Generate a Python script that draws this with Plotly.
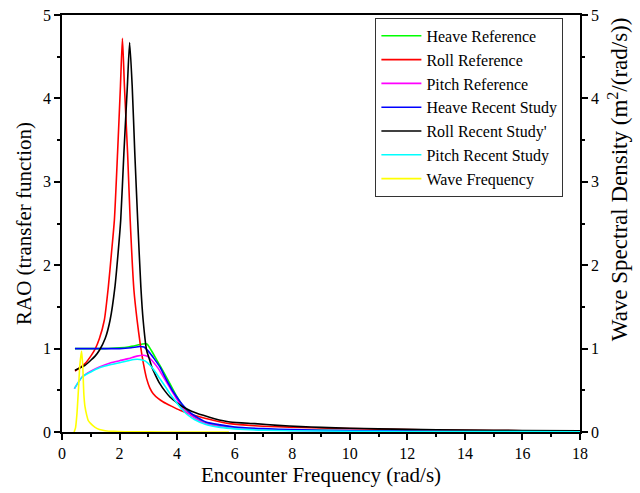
import plotly.graph_objects as go

# Encounter frequency (rad/s) and RAO values for each motion
heave_ref_x = [0.45, 1.0, 1.5, 2.0, 2.3, 2.6, 2.8, 2.95, 3.1, 3.3, 3.5, 3.75, 4.0, 4.2, 4.5, 5.0, 5.5, 6.0, 7.0, 8.0, 10, 12, 14, 16, 18]
heave_ref_y = [1.0, 1.0, 1.0, 1.01, 1.02, 1.04, 1.055, 1.055, 0.98, 0.86, 0.74, 0.58, 0.42, 0.31, 0.2, 0.11, 0.075, 0.052, 0.033, 0.024, 0.015, 0.01, 0.008, 0.006, 0.005]

roll_ref_x = [0.45, 0.8, 1.0, 1.16, 1.3, 1.47, 1.61, 1.72, 1.82, 1.93, 2.03, 2.10, 2.17, 2.28, 2.37, 2.50, 2.61, 2.72, 2.83, 2.94, 3.05, 3.17, 3.35, 3.52, 3.8, 4.1, 4.5, 4.9, 5.4, 5.84, 6.7, 7.5, 8.3, 9, 10, 11, 12, 14, 16, 18]
roll_ref_y = [0.73, 0.82, 0.91, 1.0, 1.12, 1.34, 1.74, 2.15, 2.54, 3.34, 4.14, 4.72, 4.14, 3.34, 2.54, 1.7, 1.34, 1.05, 0.82, 0.64, 0.53, 0.46, 0.40, 0.36, 0.31, 0.26, 0.21, 0.17, 0.13, 0.10, 0.075, 0.063, 0.055, 0.048, 0.04, 0.034, 0.028, 0.02, 0.015, 0.012]

pitch_ref_x = [0.43, 0.7, 1.0, 1.3, 1.7, 2.0, 2.3, 2.6, 2.83, 3.0, 3.17, 3.35, 3.52, 3.7, 3.87, 4.0, 4.16, 4.4, 4.7, 5.0, 5.5, 6.0, 7, 8, 10, 12, 14, 16, 18]
pitch_ref_y = [0.52, 0.66, 0.73, 0.78, 0.83, 0.855, 0.88, 0.91, 0.92, 0.90, 0.84, 0.76, 0.66, 0.56, 0.46, 0.39, 0.30, 0.22, 0.15, 0.10, 0.065, 0.045, 0.028, 0.02, 0.012, 0.008, 0.006, 0.005, 0.004]

heave_new_x = [0.45, 1.0, 1.5, 2.0, 2.4, 2.7, 2.85, 3.0, 3.2, 3.4, 3.64, 3.87, 4.16, 4.5, 5.0, 5.5, 6.0, 7, 8, 10, 12, 14, 16, 18]
heave_new_y = [1.0, 1.0, 1.0, 1.0, 1.01, 1.025, 1.02, 0.97, 0.88, 0.78, 0.62, 0.48, 0.34, 0.22, 0.12, 0.085, 0.06, 0.04, 0.028, 0.017, 0.011, 0.008, 0.006, 0.005]

roll_new_x = [0.45, 0.8, 1.0, 1.15, 1.3, 1.5, 1.67, 1.84, 1.95, 2.04, 2.15, 2.27, 2.35, 2.44, 2.53, 2.63, 2.74, 2.82, 2.94, 3.05, 3.12, 3.25, 3.40, 3.58, 3.75, 4.0, 4.21, 4.5, 4.91, 5.3, 5.84, 6.7, 7.5, 8.3, 9, 10, 11, 12, 14, 16, 18]
roll_new_y = [0.74, 0.80, 0.86, 0.91, 0.98, 1.12, 1.34, 1.74, 2.15, 2.54, 3.34, 4.14, 4.67, 4.14, 3.34, 2.54, 1.74, 1.34, 0.98, 0.86, 0.78, 0.68, 0.58, 0.49, 0.42, 0.35, 0.30, 0.25, 0.20, 0.16, 0.12, 0.10, 0.08, 0.065, 0.055, 0.045, 0.038, 0.032, 0.024, 0.018, 0.014]

pitch_new_x = [0.43, 0.7, 1.0, 1.3, 1.7, 2.0, 2.3, 2.5, 2.71, 2.9, 3.06, 3.2, 3.40, 3.58, 3.75, 3.92, 4.10, 4.35, 4.6, 5.0, 5.5, 6.0, 7, 8, 10, 12, 14, 16, 18]
pitch_new_y = [0.52, 0.66, 0.72, 0.77, 0.81, 0.83, 0.855, 0.87, 0.87, 0.85, 0.80, 0.74, 0.64, 0.55, 0.46, 0.38, 0.30, 0.21, 0.15, 0.09, 0.055, 0.038, 0.022, 0.015, 0.009, 0.006, 0.005, 0.004, 0.003]

# Wave spectral density, m^2/(rad/s)
wave_x = [0.42, 0.47, 0.52, 0.57, 0.62, 0.68, 0.72, 0.76, 0.80, 0.86, 0.91, 1.0, 1.15, 1.3, 1.5, 1.8, 2.2, 3.0, 4.0, 5.0, 5.8]
wave_y = [0.0, 0.05, 0.22, 0.5, 0.8, 0.97, 0.8, 0.45, 0.30, 0.2, 0.14, 0.1, 0.056, 0.03, 0.016, 0.007, 0.003, 0.001, 0.0, 0.0, 0.0]

series = [
    ("Heave Reference", heave_ref_x, heave_ref_y, "#00ff00", "y"),
    ("Roll Reference", roll_ref_x, roll_ref_y, "#ff0000", "y"),
    ("Pitch Reference", pitch_ref_x, pitch_ref_y, "#ff00ff", "y"),
    ("Heave Recent Study", heave_new_x, heave_new_y, "#0000ff", "y"),
    ("Roll Recent Study'", roll_new_x, roll_new_y, "#000000", "y"),
    ("Pitch Recent Study", pitch_new_x, pitch_new_y, "#00ffff", "y"),
    ("Wave Frequency", wave_x, wave_y, "#ffff00", "y2"),
]

FONT = "Liberation Serif"

fig = go.Figure()
for name, xs, ys, color, yax in series:
    fig.add_trace(go.Scatter(
        x=xs, y=ys, name=name, mode="lines", yaxis=yax,
        line=dict(color=color, width=1.6, shape="spline", smoothing=0.6),
    ))

axis_common = dict(
    showline=True, linecolor="black", linewidth=1.5,
    ticks="outside", ticklen=6, tickwidth=1.5, tickcolor="black",
    showgrid=False, zeroline=False, automargin=False,
    tickfont=dict(family=FONT, size=16, color="black"),
)

fig.update_layout(
    width=640, height=493,
    margin=dict(l=62, r=60, t=15, b=61),
    paper_bgcolor="white", plot_bgcolor="white",
    font=dict(family=FONT, color="black"),
    xaxis=dict(
        range=[0, 18], dtick=2, mirror=True, layer="below traces",
        minor=dict(dtick=1, ticks="outside", ticklen=3, tickcolor="black"),
        title=dict(text="Encounter Frequency (rad/s)", font=dict(family=FONT, size=21), standoff=6),
        **axis_common,
    ),
    yaxis=dict(
        range=[0, 5], dtick=1,
        minor=dict(dtick=0.5, ticks="outside", ticklen=3, tickcolor="black"),
        title=dict(text="RAO (transfer function)", font=dict(family=FONT, size=21), standoff=6),
        **axis_common,
    ),
    yaxis2=dict(
        range=[0, 5], dtick=1, overlaying="y", side="right", layer="below traces",
        minor=dict(dtick=0.5, ticks="outside", ticklen=3, tickcolor="black"),
        **axis_common,
    ),
    legend=dict(
        x=0.605, y=0.993, xanchor="left", yanchor="top",
        bgcolor="white", bordercolor="#333333", borderwidth=1,
        font=dict(family=FONT, size=16, color="black"),
        itemwidth=40, entrywidth=146, tracegroupgap=0,
    ),
    showlegend=True,
)

fig.add_annotation(
    text="Wave Spectral Density (m<sup>2</sup>/(rad/s))",
    xref="paper", yref="paper", x=1.0, y=0.605, xshift=55,
    textangle=-90, showarrow=False,
    font=dict(family=FONT, size=23, color="black"),
)

fig.write_html("out.html")
